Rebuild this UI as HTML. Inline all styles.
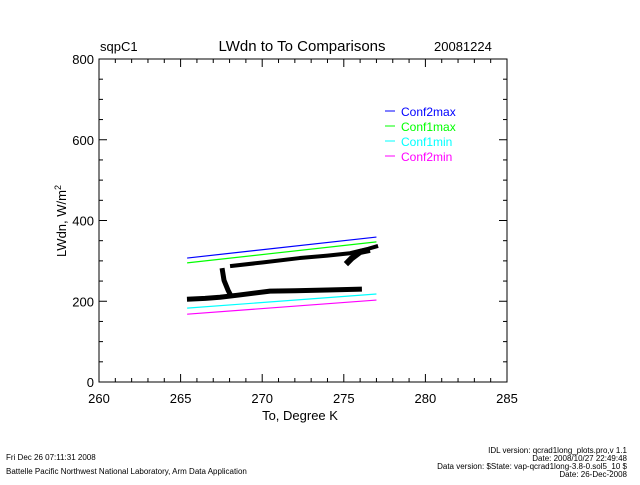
<!DOCTYPE html>
<html><head><meta charset="utf-8"><style>
body{margin:0;background:#fff;}
svg text{font-family:"Liberation Sans",sans-serif;}
</style></head><body>
<svg id="c" width="640" height="480" xmlns="http://www.w3.org/2000/svg">
<rect width="640" height="480" fill="#fff"/>
<text x="100" y="51" font-size="13">sqpC1</text>
<text x="302" y="51" font-size="15" text-anchor="middle">LWdn to To Comparisons</text>
<text x="434" y="51" font-size="13">20081224</text>
<g id="axes"></g>
<g id="series"></g>
<g id="legend"></g>
<text x="300" y="420" font-size="13" text-anchor="middle">To, Degree K</text>
<text transform="translate(66,221) rotate(-90)" font-size="13" text-anchor="middle">LWdn, W/m<tspan dy="-5" font-size="9">2</tspan></text>
<text x="6" y="460" font-size="8">Fri Dec 26 07:11:31 2008</text>
<text x="6" y="474" font-size="8">Battelle Pacific Northwest National Laboratory, Arm Data Application</text>
<text x="627" y="453" font-size="8" text-anchor="end">IDL version: qcrad1long_plots.pro,v 1.1</text>
<text x="627" y="461" font-size="8" text-anchor="end">Date: 2008/10/27 22:49:48</text>
<text x="627" y="469" font-size="8" text-anchor="end">Data version: $State: vap-qcrad1long-3.8-0.sol5_10 $</text>
<text x="627" y="477" font-size="8" text-anchor="end">Date: 26-Dec-2008</text>
</svg>
<script>
const xTicks=[260,265,270,275,280,285];
const yTicks=[0,200,400,600,800];
const confNames=["Conf2max","Conf1max","Conf1min","Conf2min"];
const confColors=["#0000ff","#00ff00","#00ffff","#ff00ff"];
const confT=[265.4,277.0];
const conf2max=[307,359];
const conf1max=[295,347];
const conf1min=[183,218];
const conf2min=[168,203];
const lowT=[265.39,266.5,267.41,268.5,270.48,272,274,276.11];
const lowV=[205,207,210,215,225,226,228,230];
const upT=[268.03,270,272.3,274,275.38,276.5,277.1];
const upV=[287,296,307,313,319,330,337];
const vlT=[267.54,267.66,267.9,268.1];
const vlV=[282,252,228,212];
const rcT=[275.13,275.5,276,276.6];
const rcV=[292,307,322,327];

const X0=99,X1=507,Y0=382,Y1=59;
const sx=t=>X0+(t-260)/25*(X1-X0);
const sy=v=>Y0-v/800*(Y0-Y1);
const NS="http://www.w3.org/2000/svg";
function mk(tag,attrs,parent){const e=document.createElementNS(NS,tag);for(const k in attrs)e.setAttribute(k,attrs[k]);parent.appendChild(e);return e;}
const ax=document.getElementById('axes');
let f=mk('rect',{x:X0,y:Y1,width:X1-X0,height:Y0-Y1,fill:'none',stroke:'#000','stroke-width':1},ax);


for(let t=260;t<=285;t++){const maj=(t%5===0);const L=maj?8:4;
 mk('line',{x1:sx(t),x2:sx(t),y1:Y0,y2:Y0-L,stroke:'#000'},ax);
 mk('line',{x1:sx(t),x2:sx(t),y1:Y1,y2:Y1+L,stroke:'#000'},ax);}
xTicks.forEach(t=>{const e=mk('text',{x:sx(t),y:403,'font-size':13,'text-anchor':'middle'},ax);e.textContent=t;
 
 });
for(let v=0;v<=800;v+=50){const maj=(v%200===0);const L=maj?8:4;
 mk('line',{x1:X0,x2:X0+L,y1:sy(v),y2:sy(v),stroke:'#000'},ax);
 mk('line',{x1:X1,x2:X1-L,y1:sy(v),y2:sy(v),stroke:'#000'},ax);}
yTicks.forEach(v=>{const e=mk('text',{x:94,y:sy(v)+5,'font-size':13,'text-anchor':'end'},ax);e.textContent=v;
 
 });
const sr=document.getElementById('series');
[conf2max,conf1max,conf1min,conf2min].forEach((s,i)=>{
 const l=mk('line',{x1:sx(confT[0]),y1:sy(s[0]),x2:sx(confT[1]),y2:sy(s[1]),stroke:confColors[i],'stroke-width':1.2},sr);
 
 });
[[lowT,lowV,'lower-band',5],[upT,upV,'upper-band',4],[vlT,vlV,'left-vertical',5],[rcT,rcV,'right-cluster',6]].forEach(([T,V,n,w])=>{
 const p=mk('polyline',{points:T.map((t,i)=>sx(t)+','+sy(V[i])).join(' '),fill:'none',stroke:'#000','stroke-width':w,'stroke-linejoin':'round'},sr);
 
 });
const lg=document.getElementById('legend');
confNames.forEach((n,i)=>{const y=111+i*15;
 mk('line',{x1:385,x2:395,y1:y,y2:y,stroke:confColors[i]},lg);
 const t=mk('text',{x:401,y:y+5,'font-size':12,fill:confColors[i]},lg);t.textContent=n;
 
 });
</script>
</body></html>
